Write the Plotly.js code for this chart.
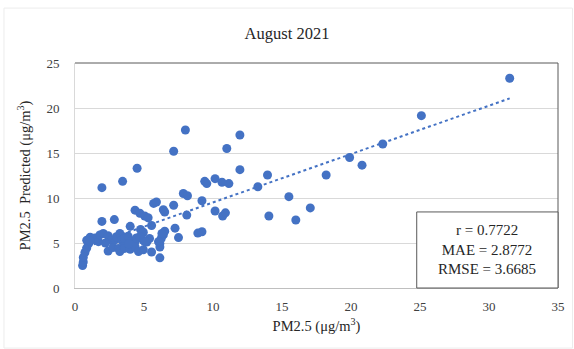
<!DOCTYPE html>
<html>
<head>
<meta charset="utf-8">
<script src="https://cdn.plot.ly/plotly-3.0.1.min.js"></script>
<style>html,body{margin:0;padding:0;background:#fff;}#chart{width:574px;height:349px;}</style>
</head>
<body>
<div id="chart"></div>
<script>
// Observed PM2.5 (µg/m³)
const observed = [
  31.5, 25.1, 22.3, 19.9, 20.8, 18.2, 17.05, 16.0, 15.5, 14.05, 13.95, 13.25,
  11.95, 11.95, 11.0, 11.15, 10.65, 10.15, 9.4, 9.55, 10.15, 10.7, 10.9, 9.2,
  8.0, 7.15, 7.85, 8.15, 7.15, 8.1, 8.9, 9.2, 7.25, 7.5, 6.4, 6.5, 5.7, 5.9,
  4.5, 3.45, 1.95, 1.95, 2.85, 4.35, 4.7, 5.05, 5.3, 4.0, 5.55, 4.75, 4.95, 6.5,
  6.4, 6.25, 6.15, 6.15, 6.15, 5.55,
  0.55, 0.6, 0.6, 0.72, 0.85, 0.97, 0.85, 1.1, 1.35, 1.45,
  1.7, 1.8, 2.05, 2.4, 2.65, 2.9, 3.0, 3.25, 3.4, 3.6,
  3.85, 4.1, 4.35, 4.45, 4.7, 4.95, 5.2, 5.4, 6.05, 2.4,
  2.75, 3.15, 3.25, 3.5, 3.6, 4.0, 4.35, 4.6, 4.95, 5.05,
  1.1, 2.2, 3.9, 6.3
];
// Predicted PM2.5 (µg/m³)
const predicted = [
  23.3, 19.15, 16.0, 14.5, 13.65, 12.55, 8.9, 7.55, 10.15, 8.0, 12.55, 11.25,
  17.0, 13.15, 15.5, 11.6, 11.75, 12.15, 11.85, 11.6, 8.55, 8.0, 8.35, 9.7,
  17.55, 15.2, 10.5, 10.25, 9.2, 8.1, 6.1, 6.25, 6.65, 5.6, 8.7, 8.45, 9.4, 9.55,
  13.3, 11.85, 11.15, 7.4, 7.6, 8.65, 8.3, 8.0, 7.8, 6.85, 6.95, 6.5, 6.2, 6.3,
  5.9, 5.5, 4.95, 4.55, 3.35, 4.0,
  2.5, 2.9, 3.4, 3.95, 4.45, 4.9, 5.3, 5.65, 5.5, 5.55,
  5.15, 5.9, 6.05, 5.8, 5.3, 5.35, 5.7, 6.05, 5.3, 5.5,
  5.75, 5.2, 5.15, 5.55, 5.7, 5.3, 5.1, 5.5, 5.15, 4.1,
  4.5, 4.4, 4.05, 4.6, 4.4, 4.3, 4.6, 4.05, 4.25, 5.15,
  5.2, 5.0, 4.9, 6.05
];
const xTicks = [0, 5, 10, 15, 20, 25, 30, 35];
const yTicks = [0, 5, 10, 15, 20, 25];
const statsLines = ["r = 0.7722", "MAE = 2.8772", "RMSE = 3.6685"];

// Linear (least-squares) trendline from the data, as Excel does
const n = observed.length;
const mx = observed.reduce((a, b) => a + b, 0) / n;
const my = predicted.reduce((a, b) => a + b, 0) / n;
let sxy = 0, sxx = 0;
for (let i = 0; i < n; i++) { sxy += (observed[i] - mx) * (predicted[i] - my); sxx += (observed[i] - mx) ** 2; }
const slope = sxy / sxx, intercept = my - slope * mx;
const tx = [Math.min(...observed), Math.max(...observed)];
const ty = tx.map(v => intercept + slope * v);

const serif = "Liberation Serif, Times New Roman, serif";
const blue = "#4472C4";

const traces = [
  { type: "scatter", mode: "markers", x: observed, y: predicted,
    marker: { color: blue, size: 9, line: { width: 0 } }, hoverinfo: "x+y", showlegend: false },
  { type: "scatter", mode: "lines", x: tx, y: ty,
    line: { color: blue, width: 2, dash: "dot" }, hoverinfo: "skip", showlegend: false }
];

const layout = {
  width: 574, height: 349,
  margin: { l: 75, r: 16, t: 63, b: 61 },
  paper_bgcolor: "#ffffff", plot_bgcolor: "#ffffff",
  font: { family: serif, color: "#404040", size: 13 },
  title: { text: "August 2021", font: { family: serif, size: 16.5, color: "#262626" },
           x: 0.5, xref: "container", xanchor: "center", y: 0.905, yref: "container", yanchor: "middle" },
  xaxis: {
    range: [0, 35], tickvals: xTicks, ticktext: xTicks.map(String),
    showgrid: false, zeroline: false, showline: true, linecolor: "#bfbfbf", linewidth: 1,
    ticks: "", ticklabelstandoff: 6, tickfont: { family: serif, size: 13, color: "#404040" },
    title: { text: "PM2.5 (μg/m<sup>3</sup>)", font: { family: serif, size: 14.5, color: "#262626" }, standoff: 8 }
  },
  yaxis: {
    range: [0, 25], tickvals: yTicks, ticktext: yTicks.map(String),
    showgrid: true, gridcolor: "#d9d9d9", gridwidth: 1, zeroline: false,
    showline: true, linecolor: "#d9d9d9", linewidth: 1,
    ticks: "", ticklabelstandoff: 12, tickfont: { family: serif, size: 13, color: "#404040" },
    title: { text: "PM2.5\u00a0\u00a0Predicted (μg/m<sup>3</sup>)", font: { family: serif, size: 14.5, color: "#262626" }, standoff: 12 }
  },
  shapes: [
    { type: "rect", xref: "paper", yref: "paper", x0: -0.147, x1: 1.03, y0: -0.267, y1: 1.244,
      line: { color: "#ececec", width: 1 }, fillcolor: "rgba(0,0,0,0)", layer: "below" },
    { type: "line", xref: "paper", yref: "paper", x0: 0, x1: 1, y0: 1, y1: 1, line: { color: "#595959", width: 1 } },
    { type: "line", xref: "paper", yref: "paper", x0: 1, x1: 1, y0: 0, y1: 1, line: { color: "#595959", width: 1 } },
    { type: "rect", xref: "paper", yref: "paper", x0: 0.7075, x1: 1, y0: 0, y1: 0.338,
      line: { color: "#595959", width: 1 }, fillcolor: "#ffffff", layer: "above" }
  ],
  annotations: [
    { xref: "paper", yref: "paper", x: 0.854, y: 0.169, xanchor: "center", yanchor: "middle",
      text: statsLines.join("<br>"), showarrow: false, align: "center",
      font: { family: serif, size: 15, color: "#262626" } }
  ]
};

Plotly.newPlot("chart", traces, layout, { staticPlot: true, displayModeBar: false });
</script>
</body>
</html>
